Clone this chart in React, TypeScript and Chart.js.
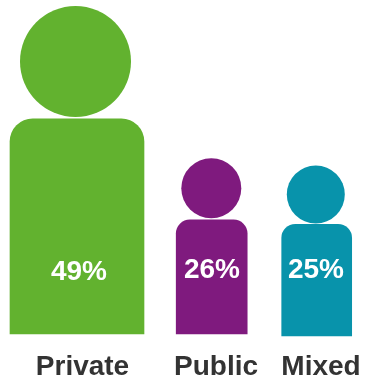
import { useEffect, useRef } from "react";
import { Chart, registerables } from "chart.js";

Chart.register(...registerables);

// Share of each sector, in percent
const categories = ["Private", "Public", "Mixed"];
const shares = [49, 26, 25];

// Horizontal layout on the linear x axis (0-366)
const bodyCentres = [77, 211.7, 316.7];
const headCentres = [75.5, 211.3, 315.8];
const labelCentres = [82.5, 216, 321];
const shareLabelCentres = [79, 212, 316];
const bodyWidths = [134, 71, 70];
const bodyRadii = [23, 14, 14];
const bodyBases = [0, 0, -0.45];

// Heads sit above each body, expressed on the y axis
const headHeights = [62.1, 33.2, 31.8];
const headRadii = [55.5, 30, 29];
const shareLabelHeights = [14.1, 14.6, 14.6];

const colours = ["#62B22F", "#7F1A7E", "#0893AB"];

const FONT_FAMILY = '"Liberation Sans", Arial, sans-serif';

const shareLabels = {
  id: "shareLabels",
  afterDatasetsDraw(chart: any) {
    const { ctx, scales } = chart;
    ctx.save();
    ctx.fillStyle = "#FFFFFF";
    ctx.font = `bold 28px ${FONT_FAMILY}`;
    ctx.textAlign = "center";
    ctx.textBaseline = "middle";
    shares.forEach((share, i) => {
      ctx.fillText(
        `${share}%`,
        scales.x.getPixelForValue(shareLabelCentres[i]),
        scales.y.getPixelForValue(shareLabelHeights[i])
      );
    });
    ctx.restore();
  },
};

export default function App() {
  const canvasRef = useRef<HTMLCanvasElement>(null);

  useEffect(() => {
    document.body.style.margin = "0";
    const chart = new Chart(canvasRef.current!, {
      type: "bar",
      data: {
        datasets: [
          {
            type: "scatter",
            data: headCentres.map((x, i) => ({ x, y: headHeights[i] })),
            pointRadius: headRadii,
            pointHoverRadius: headRadii,
            pointBackgroundColor: colours,
            pointBorderWidth: 0,
            showLine: false,
          },
          ...shares.map((share, i) => ({
            type: "bar",
            label: categories[i],
            data: [{ x: bodyCentres[i], y: share }],
            base: bodyBases[i],
            grouped: false,
            barThickness: bodyWidths[i],
            backgroundColor: colours[i],
            borderSkipped: false,
            borderRadius: {
              topLeft: bodyRadii[i],
              topRight: bodyRadii[i],
              bottomLeft: 0,
              bottomRight: 0,
            },
          })),
        ],
      } as any,
      options: {
        responsive: false,
        animation: false,
        layout: { padding: 0, autoPadding: false },
        plugins: { legend: { display: false }, tooltip: { enabled: false } },
        scales: {
          x: {
            type: "linear",
            min: 0,
            max: 366,
            offset: false,
            grid: { display: false, drawTicks: false },
            border: { display: false },
            afterBuildTicks(axis: any) {
              axis.ticks = labelCentres.map((value) => ({ value }));
            },
            // Tick labels lie well inside the axis, so no side padding is needed
            afterFit(axis: any) {
              axis.height = 43.6;
              axis.paddingLeft = 0;
              axis.paddingRight = 0;
              if (axis._margins) {
                axis._margins.left = 0;
                axis._margins.right = 0;
              }
            },
            ticks: {
              autoSkip: false,
              maxRotation: 0,
              padding: 12,
              color: "#333333",
              font: { family: FONT_FAMILY, size: 28, weight: "bold" },
              callback: (value: any) => categories[labelCentres.indexOf(value)],
            },
          },
          y: { display: false, min: -1, max: 76.1 },
        },
      } as any,
      plugins: [shareLabels],
    });
    return () => chart.destroy();
  }, []);

  return (
    <div style={{ width: 366, height: 382, background: "#FFFFFF" }}>
      <canvas ref={canvasRef} width={366} height={382} style={{ display: "block" }} />
    </div>
  );
}
